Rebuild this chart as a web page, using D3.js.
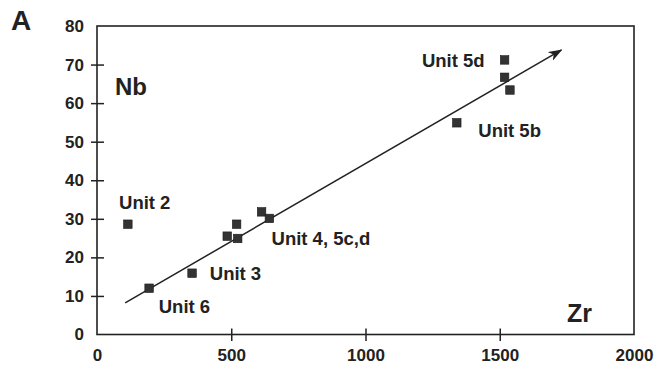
<!DOCTYPE html>
<html>
<head>
<meta charset="utf-8">
<script src="https://cdn.jsdelivr.net/npm/d3@7"></script>
<style>
  html, body { margin: 0; padding: 0; background: #ffffff; }
  svg { display: block; }
  text { font-family: "Liberation Sans", Arial, Helvetica, sans-serif; fill: #222; }
</style>
</head>
<body>
<svg id="chart" width="659" height="369"></svg>
<script>
// Zr (ppm) vs Nb (ppm) samples
const zr = [115, 194, 354, 485, 520, 524, 613, 642, 1340, 1518, 1518, 1538];
const nb = [28.6, 12.0, 15.9, 25.5, 28.6, 24.9, 31.8, 30.1, 54.9, 71.2, 66.7, 63.4];

// Trend line (start, arrow tip)
const trendZr = [105, 1730];
const trendNb = [8.2, 73.8];

// Unit labels with anchor values in data units
const unitNames = ["Unit 2", "Unit 6", "Unit 3", "Unit 4, 5c,d", "Unit 5d", "Unit 5b"];
const unitZr = [82, 230, 420, 650, 1210, 1420];
const unitNb = [34.2, 7.3, 15.7, 25.0, 71.0, 53.0];

const xTicks = [0, 500, 1000, 1500, 2000];
const yTicks = [0, 10, 20, 30, 40, 50, 60, 70, 80];

const svg = d3.select("#chart");
const x = d3.scaleLinear().domain([0, 2000]).range([97, 634]);
const y = d3.scaleLinear().domain([0, 80]).range([334.5, 26]);

// Left axis with ticks crossing the spine
const yAxis = svg.append("g")
  .attr("transform", `translate(${x(0)},0)`)
  .call(d3.axisLeft(y).tickValues(yTicks).tickFormat(d3.format("d")).tickSize(6).tickPadding(13));
yAxis.select(".domain").remove();
yAxis.selectAll(".tick line")
  .attr("x1", -6).attr("x2", 7)
  .attr("stroke", "#222").attr("stroke-width", 1.5)
  .style("display", d => (d === 0 || d === 80) ? "none" : null);
yAxis.selectAll(".tick text")
  .attr("x", -13)
  .style("font-size", "17px").style("font-weight", "bold").attr("fill", "#222");

// Bottom axis
const xAxis = svg.append("g")
  .attr("transform", `translate(0,${y(0)})`)
  .call(d3.axisBottom(x).tickValues(xTicks).tickFormat(d3.format("d")).tickSize(6));
xAxis.select(".domain").remove();
xAxis.selectAll(".tick line")
  .attr("y1", -6).attr("y2", 6.5)
  .attr("stroke", "#222").attr("stroke-width", 1.5)
  .style("display", d => (d === 0 || d === 2000) ? "none" : null);
xAxis.selectAll(".tick text")
  .attr("y", 14)
  .style("font-size", "17px").style("font-weight", "bold").attr("fill", "#222");

// Frame
svg.append("rect")
  .attr("x", x(0)).attr("y", y(80))
  .attr("width", x(2000) - x(0)).attr("height", y(0) - y(80))
  .attr("fill", "none").attr("stroke", "#222").attr("stroke-width", 1.6);

// Arrowhead
svg.append("defs").append("marker")
  .attr("id", "arrow").attr("viewBox", "0 0 14 10")
  .attr("refX", 13).attr("refY", 5)
  .attr("markerWidth", 14).attr("markerHeight", 10)
  .attr("markerUnits", "userSpaceOnUse")
  .attr("orient", "auto")
  .append("path").attr("d", "M0,0 L14,5 L0,10 L4,5 Z").attr("fill", "#222");

// Trend line
svg.append("line")
  .attr("x1", x(trendZr[0])).attr("y1", y(trendNb[0]))
  .attr("x2", x(trendZr[1])).attr("y2", y(trendNb[1]))
  .attr("stroke", "#222").attr("stroke-width", 1.5)
  .attr("marker-end", "url(#arrow)");

// Sample squares
const s = 8.5;
svg.append("g").selectAll("rect")
  .data(zr.map((v, i) => [v, nb[i]]))
  .join("rect")
  .attr("x", d => x(d[0]) - s / 2)
  .attr("y", d => y(d[1]) - s / 2)
  .attr("width", s).attr("height", s)
  .attr("fill", "#333").attr("stroke", "#1a1a1a").attr("stroke-width", 0.6);

// Unit labels
svg.append("g").selectAll("text")
  .data(unitNames.map((t, i) => ({ t, zx: unitZr[i], ny: unitNb[i] })))
  .join("text")
  .attr("x", d => x(d.zx)).attr("y", d => y(d.ny))
  .attr("dy", "0.35em")
  .style("font-size", "18.5px").style("font-weight", "bold")
  .text(d => d.t);

// Axis titles and panel letter
svg.append("text").attr("x", 115).attr("y", 95)
  .style("font-size", "24px").style("font-weight", "bold").text("Nb");
svg.append("text").attr("x", 567).attr("y", 322)
  .style("font-size", "25px").style("font-weight", "bold").text("Zr");
svg.append("text").attr("x", 11).attr("y", 30)
  .style("font-size", "28px").style("font-weight", "bold").text("A");
</script>
</body>
</html>
